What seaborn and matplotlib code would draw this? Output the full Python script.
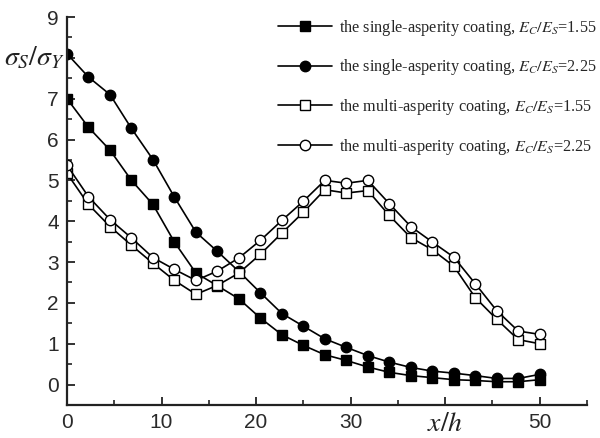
import matplotlib
matplotlib.use("Agg")
import matplotlib.pyplot as plt
import seaborn as sns
import pandas as pd
from matplotlib.ticker import MultipleLocator, FixedLocator

# ---- data ----
x_h = [0, 2.27, 4.55, 6.82, 9.09, 11.36, 13.64, 15.91, 18.18, 20.45, 22.73, 25.0,
       27.27, 29.55, 31.82, 34.09, 36.36, 38.64, 40.91, 43.18, 45.45, 47.73, 50.0]

single_155 = [7.0, 6.3, 5.74, 5.0, 4.41, 3.49, 2.73, 2.42, 2.1, 1.63, 1.22, 0.96,
              0.73, 0.59, 0.43, 0.30, 0.22, 0.17, 0.12, 0.10, 0.07, 0.07, 0.12]
single_225 = [8.1, 7.53, 7.1, 6.27, 5.51, 4.59, 3.73, 3.26, 2.77, 2.25, 1.74, 1.43,
              1.12, 0.91, 0.71, 0.55, 0.42, 0.33, 0.28, 0.22, 0.15, 0.15, 0.25]
multi_155 = [5.17, 4.41, 3.87, 3.41, 2.97, 2.55, 2.21, 2.43, 2.73, 3.19, 3.71, 4.22,
             4.77, 4.69, 4.75, 4.14, 3.6, 3.3, 2.9, 2.13, 1.6, 1.1, 1.0]
multi_225 = [5.37, 4.6, 4.04, 3.59, 3.11, 2.82, 2.55, 2.78, 3.1, 3.53, 4.02, 4.49,
             5.0, 4.93, 5.0, 4.43, 3.87, 3.49, 3.12, 2.47, 1.81, 1.31, 1.23]

labels = [
    r"the single-asperity coating, $E_C/E_S$=1.55",
    r"the single-asperity coating, $E_C/E_S$=2.25",
    r"the multi-asperity coating, $E_C/E_S$=1.55",
    r"the multi-asperity coating, $E_C/E_S$=2.25",
]
series = [single_155, single_225, multi_155, multi_225]
markers = ["s", "o", "s", "o"]
faces = ["black", "black", "white", "white"]

x_ticks = [0, 10, 20, 30, 40, 50]
x_tick_labels = ["0", "10", "20", "30", "", "50"]
y_ticks = [0, 1, 2, 3, 4, 5, 6, 7, 8, 9]
y_tick_labels = ["0", "1", "2", "3", "4", "5", "6", "7", "", "9"]

# ---- style ----
sns.set_style("ticks")
plt.rcParams["font.family"] = ["Liberation Sans", "DejaVu Sans"]
plt.rcParams["mathtext.fontset"] = "stix"

fig = plt.figure(figsize=(6.0, 4.38), dpi=100)
ax = fig.add_axes([67 / 600, 1 - 405 / 438, 520 / 600, 388 / 438])

for y, lab, mk, fc in zip(series, labels, markers, faces):
    df = pd.DataFrame({"x": x_h, "y": y})
    sns.lineplot(data=df, x="x", y="y", ax=ax, color="black", marker=mk,
                 markersize=7.5 if mk == "o" else 6.8, markerfacecolor=fc,
                 markeredgecolor="black", markeredgewidth=1.0, linewidth=1.2,
                 label=lab)

ax.set_xlim(0, 55)
ax.set_ylim(-0.5, 9)
ax.xaxis.set_major_locator(FixedLocator(x_ticks))
ax.set_xticklabels(x_tick_labels)
ax.xaxis.set_minor_locator(MultipleLocator(5))
ax.yaxis.set_major_locator(FixedLocator(y_ticks))
ax.set_yticklabels(y_tick_labels)
ax.yaxis.set_minor_locator(MultipleLocator(0.5))

ax.tick_params(axis="both", which="major", direction="in", length=6, width=1.3,
               labelsize=15, color="#222222", labelcolor="#2a2a2a", pad=6)
ax.tick_params(axis="both", which="minor", direction="in", length=3.5, width=1.2,
               color="#222222")

for s in ["top", "right"]:
    ax.spines[s].set_visible(False)
for s in ["left", "bottom"]:
    ax.spines[s].set_linewidth(1.6)
    ax.spines[s].set_color("#222222")

ax.set_ylabel(r"$\sigma_S/\sigma_Y$", rotation=0, fontsize=20, ha="right",
              va="center", color="#222222")
ax.yaxis.set_label_coords(-0.004, (8 + 0.5) / 9.5)
ax.set_xlabel(r"$x/h$", fontsize=20, va="center", color="#222222")
ax.xaxis.set_label_coords(40 / 55, -0.05)

leg = ax.legend(loc="upper right", bbox_to_anchor=(0.994, 0.960),
                bbox_transform=fig.transFigure, frameon=False, borderpad=0,
                borderaxespad=0, handlelength=3.3, handletextpad=0.45,
                labelspacing=1.22,
                prop={"family": ["Liberation Serif", "DejaVu Serif"], "size": 11.7})

fig.savefig("out.png", dpi=100, facecolor="white")
